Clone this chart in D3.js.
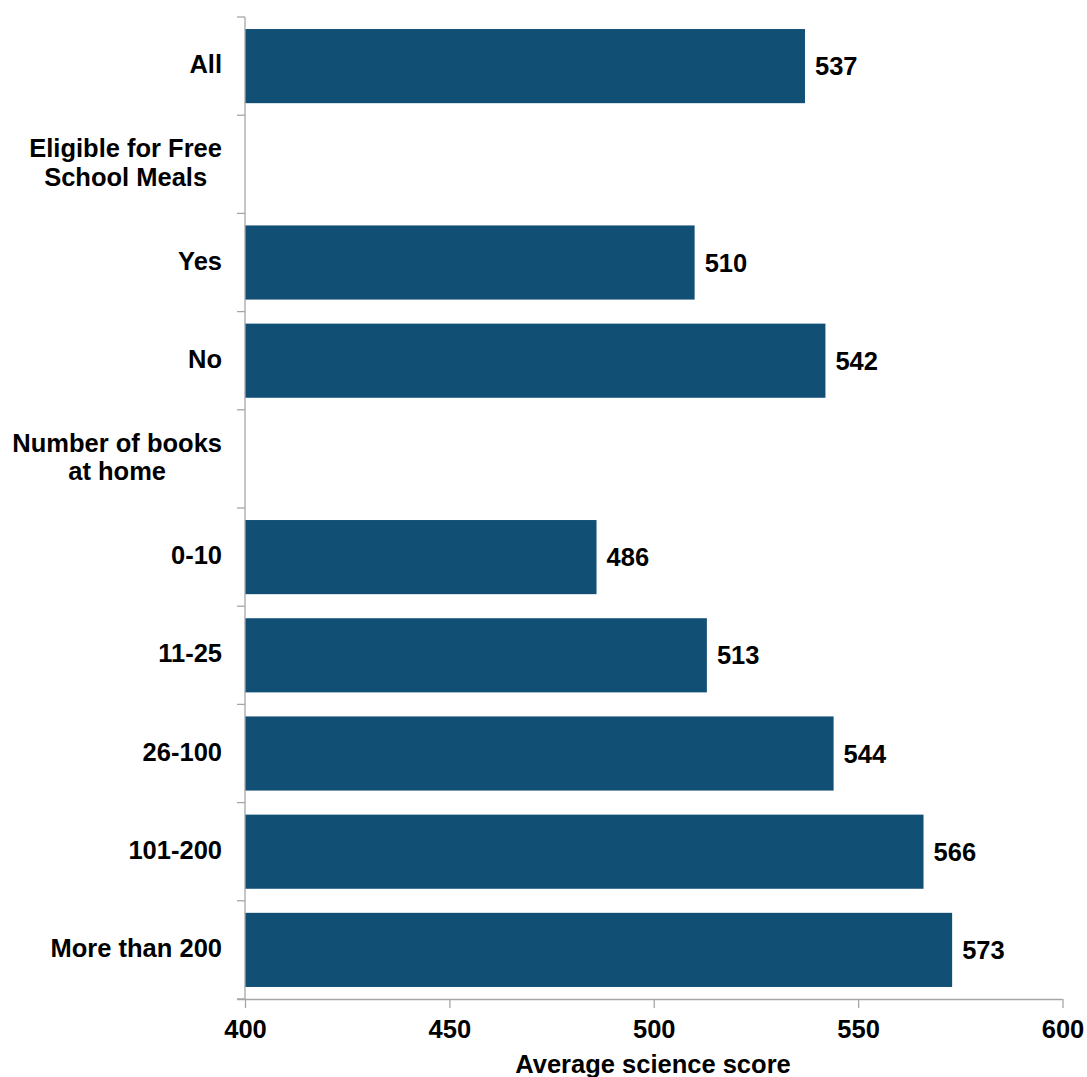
<!DOCTYPE html>
<html><head><meta charset="utf-8">
<script src="https://cdn.jsdelivr.net/npm/d3@7"></script>
<style>body{margin:0;background:#fff}svg{display:block}text{font-family:"Liberation Sans",Arial,sans-serif;font-weight:bold;fill:#000}</style>
</head><body>
<svg id="c" width="1087" height="1077"></svg>
<script>
const categories = ["All", "Eligible for Free\nSchool Meals", "Yes", "No", "Number of books\nat home", "0-10", "11-25", "26-100", "101-200", "More than 200"];
const values = [537, null, 510, 542, null, 486, 513, 544, 566, 573];
const xTicks = [400, 450, 500, 550, 600];
const xTitle = "Average science score";

const svg = d3.select("#c");
const FS = 25.5;
const x0 = 245, x1 = 1062.5, yTop = 17, yBot = 999;
const x = d3.scaleLinear().domain([400, 600]).range([x0, x1]);
const y = d3.scaleBand().domain(categories.map((c, i) => i)).range([yTop, yBot]).paddingInner(0.245).paddingOuter(0.1225);
const color = "#124f75", axisCol = "#a6a6a6";

const data = categories.map((c, i) => ({c, v: values[i], i}));

// bars
svg.append("g").selectAll("rect").data(data.filter(d => d.v != null)).join("rect")
  .attr("x", x(400)).attr("y", d => y(d.i))
  .attr("width", d => x(d.v) - x(400)).attr("height", y.bandwidth())
  .attr("fill", color);

// value labels
svg.append("g").selectAll("text").data(data.filter(d => d.v != null)).join("text")
  .attr("x", d => x(d.v) + 10).attr("y", d => y(d.i) + y.bandwidth() / 2)
  .attr("dy", "0.36em").attr("font-size", FS).text(d => d.v);

// y axis line & ticks at band boundaries
const step = y.step();
const yb = d3.range(categories.length + 1).map(k => yTop + k * step);
svg.append("line").attr("x1", x0).attr("x2", x0).attr("y1", yTop).attr("y2", yBot).attr("stroke", axisCol).attr("stroke-width", 1.3);
svg.append("g").selectAll("line").data(yb).join("line")
  .attr("x1", x0 - 8).attr("x2", x0).attr("y1", d => d).attr("y2", d => d)
  .attr("stroke", axisCol).attr("stroke-width", 1.3);

// x axis
const xa = svg.append("g").attr("transform", `translate(0,${yBot})`)
  .call(d3.axisBottom(x).tickValues(xTicks).tickSize(9).tickPadding(12).tickSizeOuter(0));
xa.select(".domain").attr("stroke", axisCol).attr("stroke-width", 1.3).attr("d", `M${x0 - 8},0.5H${x1}`);
xa.selectAll(".tick line").attr("stroke", axisCol).attr("stroke-width", 1.3);
xa.selectAll(".tick text").attr("font-size", FS).attr("font-family", "Liberation Sans, Arial, sans-serif").attr("font-weight", "bold").attr("fill", "#000");

svg.append("text").attr("x", 653).attr("y", 1073).attr("text-anchor", "middle").attr("font-size", FS).text(xTitle);

// category labels
const lab = svg.append("g");
data.forEach(d => {
  const lines = d.c.split("\n");
  const cy = y(d.i) + y.bandwidth() / 2;
  const lh = 28.5;
  const g = lab.append("g");
  const ts = lines.map((l, k) => g.append("text").attr("font-size", FS)
    .attr("y", cy - 2 + (k - (lines.length - 1) / 2) * lh).attr("dy", "0.36em").text(l));
  const widths = ts.map(t => t.node().getComputedTextLength());
  const maxW = Math.max(...widths);
  const cx = 222 - maxW / 2;
  ts.forEach(t => t.attr("x", cx).attr("text-anchor", "middle"));
});
</script>
</body></html>
